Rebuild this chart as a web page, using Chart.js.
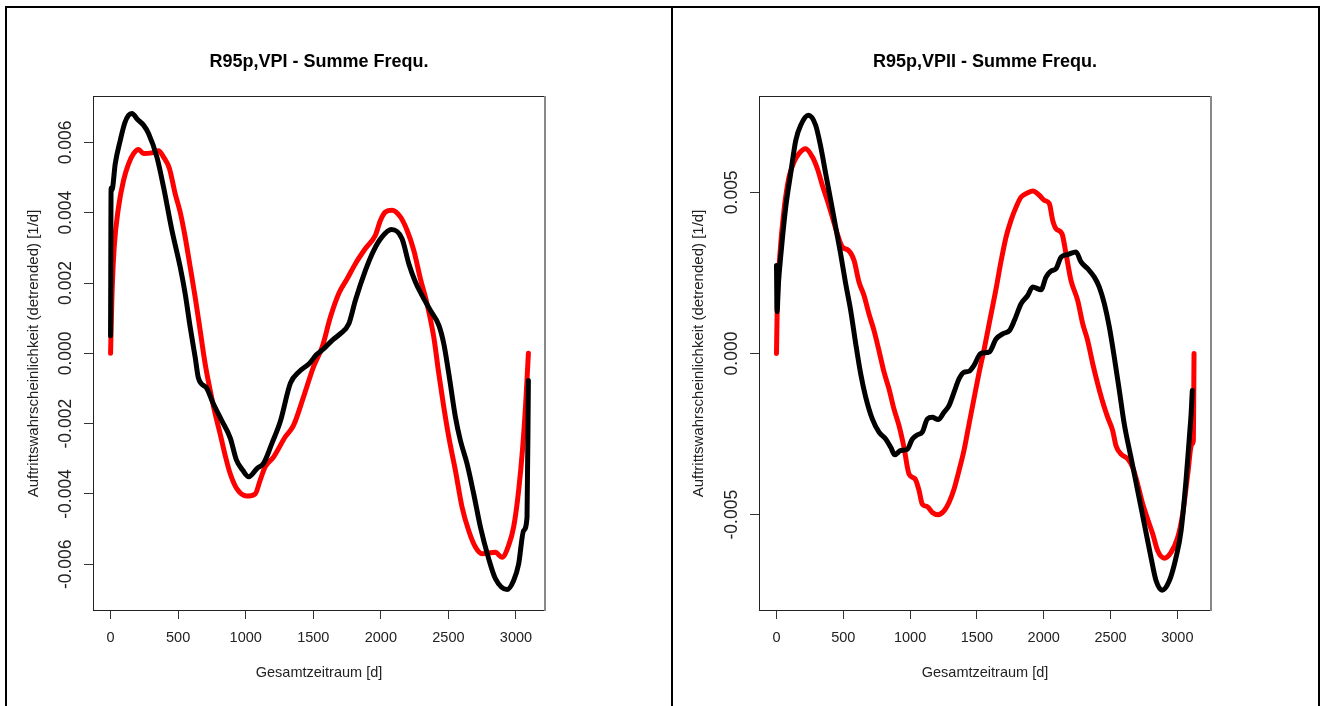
<!DOCTYPE html>
<html><head><meta charset="utf-8">
<script src="https://cdn.jsdelivr.net/npm/chart.js@4.4.0/dist/chart.umd.min.js"></script>
<style>
html,body{margin:0;padding:0;background:#fff;width:1325px;height:706px;overflow:hidden;position:relative}
.frame{position:absolute;border:2px solid #000;box-sizing:border-box}
canvas{position:absolute;top:0}
</style></head><body>
<div class="frame" style="left:5px;top:6px;width:668px;height:730px;"></div>
<div class="frame" style="left:671px;top:6px;width:649px;height:730px;"></div>
<canvas id="c1" width="638" height="706" style="left:0"></canvas>
<canvas id="c2" width="640" height="706" style="left:665px"></canvas>
<script>
// ---- data ----
const X_TICKS = [0, 500, 1000, 1500, 2000, 2500, 3000];
const Y_TICKS_LEFT = [-0.006, -0.004, -0.002, 0, 0.002, 0.004, 0.006];
const Y_TICKS_RIGHT = [-0.005, 0, 0.005];

const TITLE_LEFT = 'R95p,VPI - Summe Frequ.';
const TITLE_RIGHT = 'R95p,VPII - Summe Frequ.';
const X_LABEL = 'Gesamtzeitraum [d]';
const Y_LABEL = 'Auftrittswahrscheinlichkeit (detrended) [1/d]';

const L_BLACK_X = [0,4,10,35,72,105,133,158,200,244,281,343,392,454,515,552,589,626,650,711,759,821,886,932,977,1022,1085,1132,1194,1256,1331,1396,1473,1521,1578,1640,1701,1763,1812,1886,1948,2009,2078,2157,2207,2256,2305,2367,2429,2466,2503,2552,2589,2638,2687,2737,2798,2848,2934,2983,3020,3057,3082,3092];
const L_BLACK_Y = [0.0005,0.0047,0.00464,0.0054,0.00606,0.00655,0.00677,0.00682,0.00665,0.00649,0.00625,0.00558,0.00473,0.0035,0.00246,0.0017,0.00075,-0.00011,-0.0007,-0.00099,-0.00142,-0.0019,-0.00241,-0.00304,-0.00332,-0.00351,-0.00327,-0.00313,-0.00256,-0.00194,-0.00085,-0.00052,-0.00028,-0.00005,0.00013,0.00037,0.00056,0.00084,0.00151,0.00236,0.00293,0.00331,0.00352,0.00326,0.00255,0.00203,0.00165,0.00122,0.0008,0.00027,-0.00058,-0.00181,-0.00248,-0.00314,-0.00399,-0.00494,-0.00584,-0.00641,-0.00672,-0.00646,-0.00599,-0.00504,-0.00466,-0.00077];

const L_RED_X = [0,10,27,59,96,133,170,207,244,306,355,392,436,478,515,552,589,626,663,700,737,774,811,848,885,934,1008,1070,1107,1144,1206,1292,1354,1428,1501,1566,1627,1689,1751,1812,1886,1960,1997,2034,2083,2145,2194,2244,2293,2342,2392,2429,2466,2503,2552,2601,2650,2700,2749,2848,2897,2946,2983,3020,3050,3075,3092];
const L_RED_Y = [0,0.0016,0.00302,0.00416,0.00492,0.00539,0.00568,0.0058,0.00568,0.0057,0.00576,0.00558,0.00525,0.00454,0.00402,0.00331,0.00246,0.0016,0.00065,-0.0003,-0.00105,-0.00172,-0.00229,-0.0029,-0.00342,-0.00385,-0.00406,-0.004,-0.00361,-0.00323,-0.00295,-0.00238,-0.00205,-0.00124,-0.00039,0.00018,0.00103,0.0017,0.00212,0.00255,0.00298,0.00336,0.00378,0.00402,0.00407,0.00388,0.0035,0.00293,0.00212,0.00141,0.00046,-0.00058,-0.00153,-0.00238,-0.00333,-0.00437,-0.00504,-0.00551,-0.0057,-0.00566,-0.0058,-0.00546,-0.00494,-0.0039,-0.00267,-0.00124,0];

const R_BLACK_X = [0,4,15,31,69,106,144,181,238,293,331,368,406,443,480,518,555,593,630,668,717,767,817,855,885,930,977,1017,1055,1091,1129,1166,1210,1254,1291,1329,1366,1403,1441,1478,1528,1593,1643,1693,1743,1780,1830,1880,1918,1980,2017,2055,2092,2130,2180,2242,2279,2329,2379,2416,2454,2491,2528,2566,2603,2653,2703,2753,2803,2841,2886,2940,2990,3028,3065,3090,3103,3112];
const R_BLACK_Y = [0.00273,0.0013,0.0022,0.00299,0.00454,0.00558,0.00661,0.00708,0.00739,0.00708,0.00641,0.00558,0.00475,0.00392,0.00309,0.00216,0.00134,0.0003,-0.00063,-0.00136,-0.00203,-0.00244,-0.00265,-0.00291,-0.00314,-0.00301,-0.00298,-0.00265,-0.00252,-0.00244,-0.00203,-0.00198,-0.00205,-0.00182,-0.00162,-0.0012,-0.00079,-0.00058,-0.00055,-0.00037,0,0.00005,0.00045,0.00061,0.00071,0.00102,0.00154,0.0018,0.00206,0.00198,0.00237,0.00256,0.00263,0.00299,0.00307,0.00315,0.00284,0.00263,0.00237,0.00206,0.00154,0.00082,-0.00011,-0.00115,-0.00219,-0.00322,-0.00425,-0.00529,-0.00633,-0.00705,-0.00734,-0.00705,-0.00633,-0.0055,-0.00394,-0.0026,-0.00188,-0.00115];

const R_RED_X = [0,6,24,56,94,131,168,218,268,306,343,380,418,455,493,538,580,618,655,692,730,767,805,842,879,917,954,992,1037,1067,1091,1129,1166,1209,1254,1291,1329,1366,1403,1441,1478,1516,1555,1600,1643,1680,1718,1755,1793,1830,1868,1918,1967,2005,2042,2067,2092,2137,2167,2204,2254,2292,2329,2367,2404,2442,2479,2516,2541,2579,2629,2666,2703,2741,2778,2816,2853,2903,2953,3003,3040,3078,3108,3120,3125];
const R_RED_Y = [0,0.00154,0.00299,0.00444,0.00548,0.00594,0.0062,0.00635,0.0061,0.00573,0.00522,0.00475,0.00423,0.00371,0.0033,0.0032,0.00289,0.00221,0.0018,0.00123,0.00071,0.00009,-0.00058,-0.0011,-0.00172,-0.00224,-0.00291,-0.00374,-0.00389,-0.00425,-0.00467,-0.00475,-0.00493,-0.005,-0.00488,-0.00462,-0.0042,-0.00363,-0.00301,-0.00219,-0.0014,-0.0006,0.00015,0.0011,0.002,0.00285,0.00361,0.00413,0.00454,0.00485,0.00496,0.00504,0.00491,0.00475,0.00465,0.00413,0.00387,0.00371,0.00309,0.00227,0.00165,0.00092,0.0004,-0.00032,-0.00094,-0.00151,-0.00198,-0.00239,-0.00286,-0.00312,-0.00327,-0.00353,-0.00405,-0.00467,-0.00514,-0.0056,-0.00612,-0.00635,-0.00617,-0.0057,-0.00498,-0.00374,-0.00281,-0.0027,0];

// ---- rendering ----
const FONT = "'Liberation Sans', Arial, sans-serif";
Chart.defaults.font.family = FONT;

function pts(xs, ys) {
  const n = Math.min(xs.length, ys.length);
  const out = [];
  for (let i = 0; i < n; i++) out.push({x: xs[i], y: ys[i]});
  return out;
}

const boxPlugin = {
  id: 'plotBox',
  afterDraw(chart) {
    const {ctx, chartArea: a} = chart;
    ctx.save();
    ctx.lineWidth = 1;
    ctx.strokeStyle = '#222';
    ctx.beginPath();
    ctx.moveTo(a.left, Math.round(a.top) - 0.5);
    ctx.lineTo(a.right + 1, Math.round(a.top) - 0.5);
    ctx.stroke();
    ctx.strokeStyle = '#888';
    ctx.lineWidth = 2;
    ctx.beginPath();
    ctx.moveTo(Math.round(a.right), a.top - 1);
    ctx.lineTo(Math.round(a.right), a.bottom + 1);
    ctx.stroke();
    ctx.restore();
  }
};

function lineSet(data, color) {
  return {
    data, borderColor: color, backgroundColor: color, borderWidth: 5,
    pointRadius: 0, pointHoverRadius: 0, fill: false,
    cubicInterpolationMode: 'monotone',
    borderJoinStyle: 'round', borderCapStyle: 'round'
  };
}

function makeChart(id, cfg) {
  return new Chart(document.getElementById(id), {
    type: 'line',
    data: {
      datasets: [
        lineSet(pts(cfg.bx, cfg.by), '#000000'),
        lineSet(pts(cfg.rx, cfg.ry), '#ff0000')
      ]
    },
    options: {
      responsive: false, animation: false, devicePixelRatio: 1,
      events: [],
      layout: {padding: {left: 0, right: cfg.rightPad, top: 0, bottom: 0}},
      plugins: {
        legend: {display: false},
        tooltip: {enabled: false},
        title: {
          display: true, fullSize: false, text: cfg.title, color: '#000',
          font: {family: FONT, size: 18, weight: 'bold', lineHeight: 1.2},
          padding: {top: 51.5, bottom: 23.9}
        }
      },
      scales: {
        x: {
          type: 'linear', min: cfg.xMin, max: cfg.xMax,
          afterBuildTicks: s => { s.ticks = X_TICKS.map(v => ({value: v})); },
          afterFit: s => { s.height = 96; },
          grid: {display: true, drawOnChartArea: false, drawTicks: true, tickLength: 9, color: '#333', lineWidth: 1},
          border: {display: true, color: '#222', width: 1},
          ticks: {autoSkip: false, maxRotation: 0, minRotation: 0, padding: 9.8, color: '#222',
                  font: {family: FONT, size: 14.5}, callback: v => String(v)},
          title: {display: true, text: X_LABEL, color: '#222', font: {family: FONT, size: 14.5, lineHeight: 1.2},
                  padding: {top: 0, bottom: 24.3}}
        },
        y: {
          type: 'linear', min: cfg.yMin, max: cfg.yMax,
          afterBuildTicks: s => { s.ticks = cfg.yTicks.map(v => ({value: v})); },
          afterFit: s => { s.width = cfg.yWidth; },
          grid: {display: true, drawOnChartArea: false, drawTicks: true, tickLength: 9, color: '#333', lineWidth: 1},
          border: {display: true, color: '#222', width: 1},
          ticks: {autoSkip: false, minRotation: 90, maxRotation: 90, crossAlign: 'center', padding: -6.5, color: '#222',
                  font: {family: FONT, size: 17.5}, callback: v => Number(v).toFixed(3)},
          title: {display: true, text: Y_LABEL, color: '#222', font: {family: FONT, size: 15, lineHeight: 1.2},
                  padding: {top: 25, bottom: 0}}
        }
      }
    },
    plugins: [boxPlugin]
  });
}

makeChart('c1', {
  title: TITLE_LEFT, bx: L_BLACK_X, by: L_BLACK_Y, rx: L_RED_X, ry: L_RED_Y,
  yTicks: Y_TICKS_LEFT, xMin: -130, xMax: 3215, yMin: -0.0073, yMax: 0.00729,
  yWidth: 93, rightPad: 93
});
makeChart('c2', {
  title: TITLE_RIGHT, bx: R_BLACK_X, by: R_BLACK_Y, rx: R_RED_X, ry: R_RED_Y,
  yTicks: Y_TICKS_RIGHT, xMin: -131, xMax: 3252, yMin: -0.007956, yMax: 0.007956,
  yWidth: 94, rightPad: 94
});
</script>
</body></html>
